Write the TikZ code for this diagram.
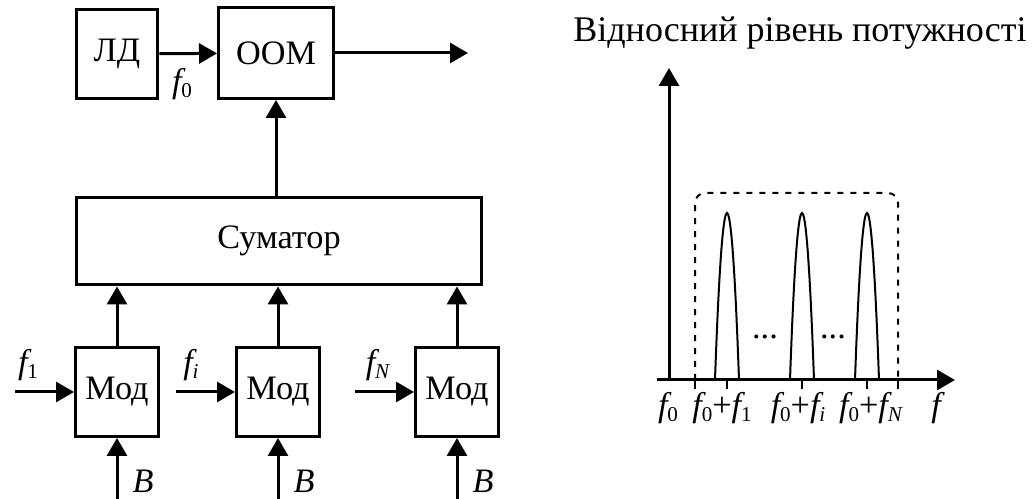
\documentclass[tikz,border=0pt]{standalone}
\usepackage{fontspec}
\setmainfont{Liberation Serif}
\usetikzlibrary{arrows.meta, positioning}
\newcommand{\fsig}[1]{\textit{f}\kern-0.12em\raisebox{-0.35ex}{\fontsize{12}{12}\selectfont #1}}

\begin{document}
\begin{tikzpicture}[x=0.02cm, y=-0.02cm,
    blok/.style={draw, line width=0.06cm, inner sep=0pt, font=\fontsize{19.5}{22}\selectfont},
    strila/.style={line width=0.06cm, -{Triangle[length=0.36cm, width=0.4cm]}},
    mitka/.style={inner sep=0pt, font=\fontsize{19.5}{22}\selectfont},
    vis/.style={line width=0.06cm},
    pik/.style={line width=0.04cm},
    ramka/.style={line width=0.04cm, dash pattern=on 0.12cm off 0.14cm, rounded corners=0.2cm}]
  \useasboundingbox (0,0) rectangle (1036,499);

  % transmitter
  \node[blok, minimum width=1.64cm, minimum height=1.8cm] (ld) at (117,54) {ЛД};
  \node[blok, minimum width=2.3cm, minimum height=1.82cm] (oom) at (276,53) {ООМ};
  \node[blok, minimum width=8.12cm, minimum height=1.76cm] (sum) at (279,241) {Суматор};
  \coordinate (out) at (468,53);
  \draw[strila] (ld) -- (oom);
  \draw[strila] (oom) -- (out);
  \draw[strila] (sum.north -| oom) -- (oom.south);
  \node[mitka] (lf0) at (182,84) {\fsig{0}};

  % modulators
  \foreach \i/\x/\xin/\lx/\lab in {1/117/15/28/{\fsig{1}}, 2/278/176/191/{\fsig{\textit{i}}}, 3/457/355/378/{\fsig{\textit{N}}}} {
    \node[blok, minimum width=1.66cm, minimum height=1.78cm] (mod\i) at (\x,392) {Мод};
    \coordinate (in\i) at (\xin,392);
    \coordinate (b\i) at (\x,499);
    \draw[strila] (mod\i.north) -- (mod\i.north |- sum.south);
    \draw[strila] (in\i) -- (mod\i.west);
    \draw[strila] (b\i) -- (mod\i.south);
    \node[mitka] (lf\i) at (\lx,365) {\lab};
    \node[mitka, font=\fontsize{19.5}{22}\selectfont\itshape] (lb\i) at (\x+26,481) {B};
  }

  % spectrum
  \node[mitka, font=\fontsize{20.5}{24}\selectfont] (titul) at (800,33) {Відносний рівень потужності};
  \coordinate (o) at (669,380);
  \coordinate (xs) at (657,380);
  \coordinate (xe) at (955,380);
  \coordinate (ye) at (669,68);
  \draw[strila] (xs) -- (xe);
  \draw[strila] (o) -- (ye);
  \draw[ramka] (695,380) -- (695,193) -- (898,193) -- (898,380);
  \foreach \c in {727,802,867} {
    \draw[pik] (\c-12,380) parabola bend (\c,213) (\c+12,380);
  }
  \foreach \t in {695,727,802,867,898} {
    \draw[pik] (\t,380) -- (\t,389);
  }
  \node[mitka] (dots1) at (765,337) {...};
  \node[mitka] (dots2) at (833,337) {...};
  \node[mitka] (s0) at (668,408) {\fsig{0}};
  \node[mitka] (s1) at (722,408) {\fsig{0}+\fsig{1}};
  \node[mitka] (s2) at (798,408) {\fsig{0}+\fsig{\textit{i}}};
  \node[mitka] (s3) at (871,408) {\fsig{0}+\fsig{\textit{N}}};
  \node[mitka] (sf) at (938,408) {\textit{f}};
\end{tikzpicture}
\end{document}
